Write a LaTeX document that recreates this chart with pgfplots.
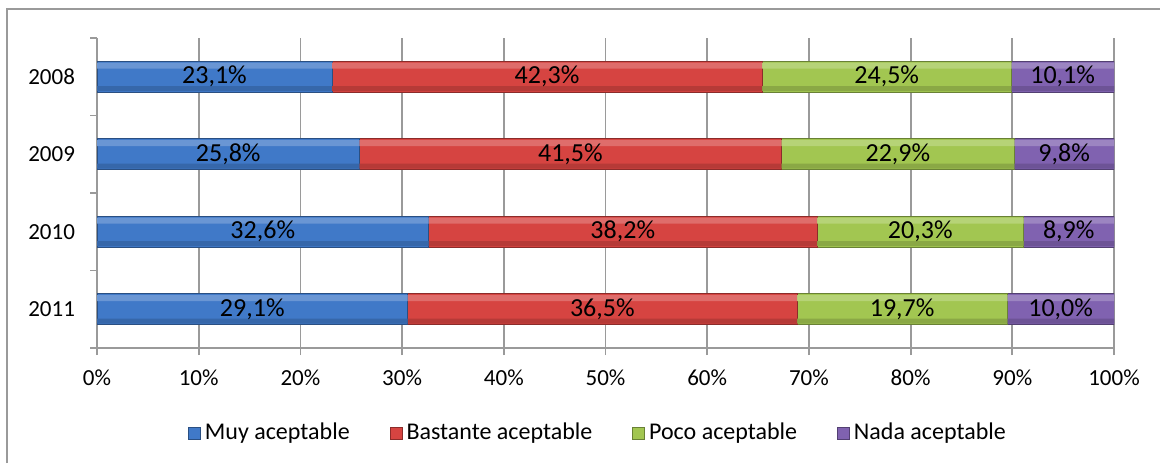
\documentclass[border=0pt]{standalone}
\usepackage{fontspec}
\setmainfont{Carlito}
\usepackage{pgfplots}
\pgfplotsset{compat=1.18}
\definecolor{cblue}{HTML}{4079C8}
\definecolor{cred}{HTML}{D64441}
\definecolor{cgreen}{HTML}{A2C651}
\definecolor{cpurple}{HTML}{8062B0}
\definecolor{gridc}{HTML}{9A9A9A}
\pgfplotstableread{
y  muy     bastante  poco    nada
0  30.535  38.300    20.672  10.493
1  32.6    38.2      20.3    8.9
2  25.8    41.5      22.9    9.8
3  23.1    42.3      24.5    10.1
}\datatab
\pgfplotsset{
  common/.style={
    at={(48.5pt,57.5pt)}, anchor=south west,
    scale only axis, width=508.5pt, height=155pt,
    xmin=0, xmax=100, ymin=-0.5, ymax=3.5,
  }
}
\begin{document}
\begin{tikzpicture}
\useasboundingbox (0,0) rectangle (580pt,231.5pt);
\draw[gridc, line width=0.9pt] (3.5pt,0pt) -- (3.5pt,227pt) -- (580pt,227pt);
\begin{axis}[
  common,
  xbar stacked, bar width=15.5pt,
  axis x line*=bottom, axis y line*=left,
  axis line style={gridc, line width=0.9pt},
  xmajorgrids, grid style={gridc, line width=0.9pt},
  xtick={0,10,...,100},
  xticklabel={\pgfmathprintnumber{\tick}\%},
  /pgf/number format/assume math mode=true,
  tick align=outside, major tick length=3.5pt,
  tick style={gridc, line width=0.9pt},
  ytick={0,1,2,3}, yticklabels={2011,2010,2009,2008},
  ytick style={draw=none},
  extra y ticks={-0.5,0.5,1.5,2.5,3.5}, extra y tick labels={},
  extra y tick style={ytick style={draw=gridc}, grid=none},
  ticklabel style={font=\fontsize{11.5}{13}\selectfont, text=black},
  yticklabel style={xshift=-4pt},
  xticklabel style={yshift=-4pt},
  legend style={at={(0.4936,-0.274)}, anchor=center, draw=none, legend columns=4,
     font=\fontsize{12}{14}\selectfont, /tikz/every even column/.append style={column sep=18pt}},
  legend image code/.code={\draw[#1] (0pt,-3pt) rectangle (6pt,3pt);},
]
\addplot[draw=cblue!65!black, fill=cblue] table[x=muy, y=y] {\datatab};
\addplot[draw=cred!65!black, fill=cred] table[x=bastante, y=y] {\datatab};
\addplot[draw=cgreen!65!black, fill=cgreen] table[x=poco, y=y] {\datatab};
\addplot[draw=cpurple!65!black, fill=cpurple] table[x=nada, y=y] {\datatab};
\legend{Muy aceptable, Bastante aceptable, Poco aceptable, Nada aceptable}
\end{axis}
% bevel highlight (top band)
\begin{axis}[common, hide axis, xbar stacked, bar width=3pt, bar shift=5.6pt]
\addplot[draw=none, fill=cblue!78!white] table[x=muy, y=y] {\datatab};
\addplot[draw=none, fill=cred!78!white] table[x=bastante, y=y] {\datatab};
\addplot[draw=none, fill=cgreen!78!white] table[x=poco, y=y] {\datatab};
\addplot[draw=none, fill=cpurple!78!white] table[x=nada, y=y] {\datatab};
\end{axis}
% bevel shade (bottom band)
\begin{axis}[common, hide axis, xbar stacked, bar width=2.5pt, bar shift=-5.9pt]
\addplot[draw=none, fill=cblue!85!black] table[x=muy, y=y] {\datatab};
\addplot[draw=none, fill=cred!85!black] table[x=bastante, y=y] {\datatab};
\addplot[draw=none, fill=cgreen!85!black] table[x=poco, y=y] {\datatab};
\addplot[draw=none, fill=cpurple!85!black] table[x=nada, y=y] {\datatab};
\end{axis}
\begin{axis}[
  common, hide axis,
  nodes near coords, point meta=explicit symbolic,
  every node near coord/.append style={anchor=center, font=\fontsize{13}{15}\selectfont, text=black},
]
\addplot[draw=none, mark=none, only marks] coordinates {
  (11.55,3) [23,1\%] (44.25,3) [42,3\%] (77.65,3) [24,5\%] (94.95,3) [10,1\%]
  (12.90,2) [25,8\%] (46.55,2) [41,5\%] (78.75,2) [22,9\%] (95.10,2) [9,8\%]
  (16.30,1) [32,6\%] (51.70,1) [38,2\%] (80.95,1) [20,3\%] (95.55,1) [8,9\%]
  (15.27,0) [29,1\%] (49.69,0) [36,5\%] (79.17,0) [19,7\%] (94.75,0) [10,0\%]
};
\end{axis}
\end{tikzpicture}
\end{document}
